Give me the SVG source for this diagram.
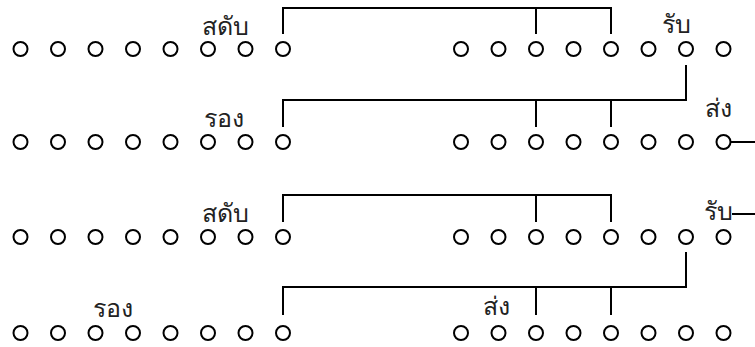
<svg xmlns="http://www.w3.org/2000/svg" width="755" height="347" viewBox="0 0 755 347">
<defs>
<style>
.pin{fill:#fff;stroke:#000;stroke-width:2}
.w{fill:none;stroke:#000;stroke-width:2;stroke-linecap:square}
.lb{font-family:"DejaVu Sans","Noto Sans",sans-serif;font-size:25px;fill:#222}
</style>
<g id="row">
<circle class="pin" cx="20.5" cy="0" r="7"/><circle class="pin" cx="58" cy="0" r="7"/><circle class="pin" cx="95.5" cy="0" r="7"/><circle class="pin" cx="133" cy="0" r="7"/><circle class="pin" cx="170.5" cy="0" r="7"/><circle class="pin" cx="208" cy="0" r="7"/><circle class="pin" cx="245.5" cy="0" r="7"/><circle class="pin" cx="283" cy="0" r="7"/>
<circle class="pin" cx="461" cy="0" r="7"/><circle class="pin" cx="498.5" cy="0" r="7"/><circle class="pin" cx="536" cy="0" r="7"/><circle class="pin" cx="573.5" cy="0" r="7"/><circle class="pin" cx="611" cy="0" r="7"/><circle class="pin" cx="648.5" cy="0" r="7"/><circle class="pin" cx="686" cy="0" r="7"/><circle class="pin" cx="723.5" cy="0" r="7"/>
</g>
</defs>
<rect width="755" height="347" fill="#fff"/>
<g id="row1"><use href="#row" y="49"/></g>
<g id="row2"><use href="#row" y="142"/></g>
<g id="row3"><use href="#row" y="237"/></g>
<g id="row4"><use href="#row" y="333"/></g>
<g id="connectors">
<path class="w" d="M283 33V8H611V33M536 8V33"/>
<path class="w" d="M686 66V100H283V126M536 100V126M611 100V126"/>
<path class="w" d="M731 142H755"/>
<path class="w" d="M283 221V195H611V221M536 195V221"/>
<path class="w" d="M733 214H755"/>
<path class="w" d="M686 253V287H283V314M536 287V314M611 287V314"/>
</g>
<g id="labels">
<text class="lb" x="202" y="35">สดับ</text>
<text class="lb" x="662" y="33">รับ</text>
<text class="lb" x="204" y="127">รอง</text>
<text class="lb" x="705" y="117">ส่ง</text>
<text class="lb" x="202" y="222">สดับ</text>
<text class="lb" x="704" y="220">รับ</text>
<text class="lb" x="93" y="317">รอง</text>
<text class="lb" x="483" y="315">ส่ง</text>
</g>
</svg>
